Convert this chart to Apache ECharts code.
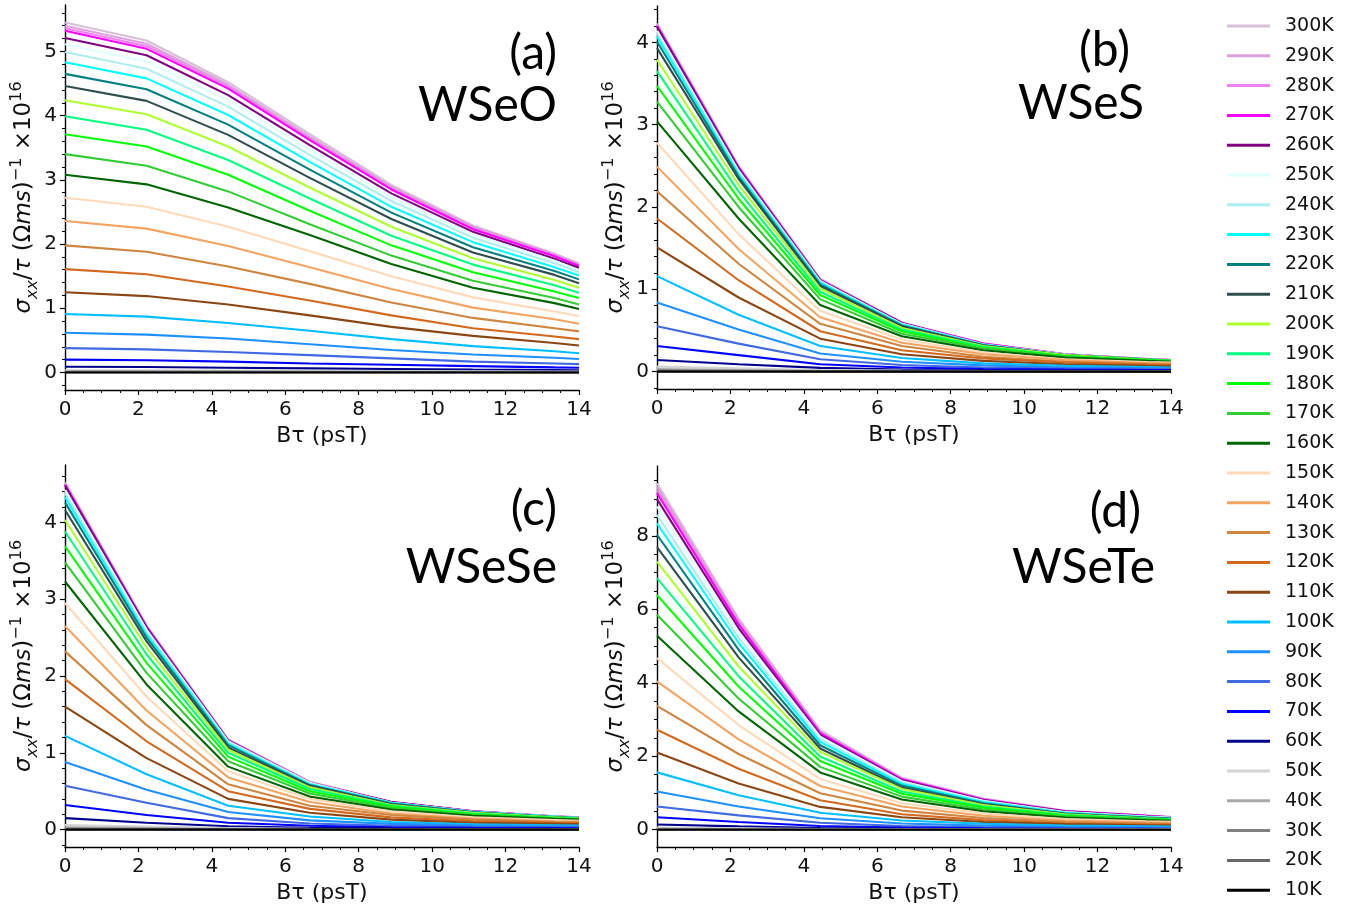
<!DOCTYPE html>
<html><head><meta charset="utf-8">
<script src="https://cdn.jsdelivr.net/npm/echarts@6/dist/echarts.min.js"></script>
<style>html,body{margin:0;padding:0;background:#fff}#c{width:1349px;height:911px}</style>
</head><body><div id="c"></div>
<script>
// ---------- data ----------
const xValues = [0, 2.222, 4.444, 6.667, 8.889, 11.111, 13.333, 14];
const temperatures = ['300K','290K','280K','270K','260K','250K','240K','230K','220K','210K','200K','190K','180K','170K','160K','150K','140K','130K','120K','110K','100K','90K','80K','70K','60K','50K','40K','30K','20K','10K'];
const lineColors = ['#D8BFD8','#DDA0DD','#EE82EE','#FF00FF','#800080','#E0FFFF','#AFEEEE','#00FFFF','#008080','#2F4F4F','#ADFF2F','#00FF7F','#00FF00','#32CD32','#006400','#FFDAB9','#F4A460','#CD853F','#D2691E','#8B4513','#00BFFF','#1E90FF','#4169E1','#0000FF','#00008B','#D3D3D3','#A9A9A9','#808080','#696969','#000000'];
const panelNames = ['(a)', '(b)', '(c)', '(d)'];
const materials = ['WSeO', 'WSeS', 'WSeSe', 'WSeTe'];
const xTicks = [0, 2, 4, 6, 8, 10, 12, 14];
const yTicksA = [0, 1, 2, 3, 4, 5];
const yTicksB = [0, 1, 2, 3, 4];
const yTicksC = [0, 1, 2, 3, 4];
const yTicksD = [0, 2, 4, 6, 8];

const wseo = [
[5.45,5.17,4.52,3.71,2.92,2.29,1.85,1.70],
[5.40,5.12,4.48,3.67,2.89,2.27,1.84,1.68],
[5.36,5.08,4.45,3.64,2.87,2.25,1.82,1.67],
[5.32,5.04,4.42,3.62,2.85,2.23,1.81,1.66],
[5.21,4.94,4.32,3.54,2.79,2.19,1.77,1.63],
[5.11,4.84,4.24,3.47,2.73,2.15,1.74,1.59],
[4.99,4.73,4.14,3.39,2.67,2.10,1.70,1.56],
[4.83,4.58,4.01,3.28,2.58,2.03,1.64,1.51],
[4.65,4.41,3.86,3.16,2.49,1.95,1.58,1.45],
[4.46,4.23,3.70,3.03,2.39,1.87,1.52,1.39],
[4.24,4.02,3.52,2.88,2.27,1.78,1.44,1.32],
[3.99,3.78,3.31,2.71,2.13,1.68,1.36,1.24],
[3.71,3.52,3.08,2.52,1.98,1.56,1.26,1.16],
[3.40,3.22,2.82,2.31,1.82,1.43,1.16,1.06],
[3.08,2.93,2.57,2.14,1.69,1.32,1.08,0.99],
[2.72,2.58,2.27,1.89,1.50,1.17,0.95,0.88],
[2.36,2.24,1.97,1.64,1.30,1.01,0.83,0.76],
[1.98,1.88,1.65,1.38,1.09,0.85,0.69,0.64],
[1.61,1.53,1.34,1.12,0.89,0.69,0.56,0.52],
[1.25,1.19,1.06,0.89,0.71,0.57,0.46,0.42],
[0.91,0.87,0.77,0.65,0.52,0.41,0.33,0.30],
[0.62,0.59,0.53,0.44,0.35,0.28,0.23,0.21],
[0.38,0.36,0.32,0.27,0.22,0.17,0.14,0.13],
[0.20,0.19,0.17,0.14,0.12,0.10,0.08,0.075],
[0.09,0.085,0.075,0.065,0.055,0.045,0.04,0.035],
[0.035,0.034,0.03,0.026,0.022,0.018,0.015,0.014],
[0.02,0.019,0.017,0.015,0.012,0.01,0.008,0.007],
[0.01,0.01,0.009,0.008,0.006,0.005,0.004,0.004],
[0.005,0.005,0.004,0.004,0.003,0.003,0.002,0.002],
[0,0,0,0,0,0,0,0]
];
const wses = [
[4.23,2.50,1.13,0.60,0.34,0.21,0.155,0.14],
[4.22,2.49,1.12,0.59,0.34,0.21,0.155,0.14],
[4.21,2.48,1.12,0.59,0.34,0.21,0.15,0.14],
[4.20,2.48,1.11,0.59,0.34,0.21,0.15,0.14],
[4.19,2.47,1.11,0.59,0.33,0.21,0.15,0.14],
[4.14,2.44,1.10,0.58,0.33,0.21,0.15,0.14],
[4.11,2.42,1.09,0.58,0.33,0.20,0.15,0.135],
[4.07,2.40,1.08,0.57,0.33,0.20,0.15,0.135],
[4.01,2.37,1.06,0.56,0.32,0.20,0.15,0.13],
[3.93,2.34,1.04,0.55,0.32,0.20,0.145,0.13],
[3.79,2.27,1.01,0.53,0.31,0.20,0.145,0.13],
[3.65,2.19,0.97,0.51,0.30,0.19,0.14,0.13],
[3.47,2.10,0.93,0.49,0.29,0.19,0.14,0.13],
[3.28,2.00,0.88,0.46,0.28,0.18,0.135,0.125],
[3.04,1.86,0.81,0.43,0.26,0.17,0.13,0.12],
[2.78,1.67,0.74,0.39,0.23,0.15,0.115,0.11],
[2.49,1.49,0.66,0.35,0.21,0.14,0.105,0.10],
[2.19,1.31,0.58,0.31,0.18,0.12,0.095,0.09],
[1.86,1.11,0.49,0.26,0.16,0.11,0.085,0.08],
[1.51,0.90,0.40,0.21,0.13,0.09,0.07,0.065],
[1.16,0.69,0.31,0.165,0.10,0.07,0.055,0.05],
[0.84,0.51,0.22,0.12,0.075,0.05,0.042,0.04],
[0.55,0.34,0.15,0.08,0.05,0.036,0.03,0.028],
[0.31,0.20,0.09,0.05,0.032,0.024,0.02,0.018],
[0.14,0.09,0.045,0.025,0.016,0.012,0.01,0.009],
[0.06,0.04,0.02,0.012,0.008,0.006,0.005,0.004],
[0.03,0.02,0.01,0.006,0.004,0.003,0.002,0.002],
[0.015,0.01,0.005,0.003,0.002,0.0015,0.001,0.001],
[0.006,0.004,0.002,0.001,0.001,0.001,0,0],
[0,0,0,0,0,0,0,0]
];
const wsese = [
[4.52,2.66,1.17,0.62,0.36,0.24,0.175,0.16],
[4.51,2.65,1.17,0.62,0.36,0.24,0.175,0.16],
[4.50,2.64,1.17,0.62,0.36,0.24,0.175,0.16],
[4.49,2.64,1.16,0.61,0.36,0.24,0.17,0.155],
[4.48,2.63,1.16,0.61,0.36,0.24,0.17,0.155],
[4.42,2.60,1.15,0.61,0.35,0.235,0.17,0.155],
[4.38,2.57,1.14,0.60,0.35,0.23,0.17,0.15],
[4.33,2.54,1.12,0.59,0.35,0.23,0.17,0.15],
[4.26,2.50,1.10,0.58,0.34,0.23,0.165,0.15],
[4.16,2.45,1.07,0.57,0.33,0.22,0.16,0.145],
[4.03,2.37,1.04,0.55,0.32,0.22,0.16,0.145],
[3.88,2.28,1.00,0.53,0.31,0.21,0.155,0.14],
[3.69,2.17,0.95,0.50,0.30,0.20,0.15,0.14],
[3.48,2.04,0.89,0.47,0.28,0.19,0.145,0.135],
[3.23,1.89,0.82,0.43,0.26,0.18,0.14,0.13],
[2.95,1.73,0.76,0.40,0.24,0.16,0.125,0.115],
[2.65,1.55,0.68,0.36,0.21,0.145,0.11,0.105],
[2.32,1.36,0.59,0.31,0.19,0.13,0.10,0.095],
[1.96,1.15,0.50,0.27,0.16,0.11,0.09,0.085],
[1.60,0.93,0.40,0.22,0.13,0.09,0.075,0.07],
[1.22,0.72,0.31,0.17,0.10,0.07,0.058,0.053],
[0.88,0.52,0.23,0.12,0.075,0.053,0.044,0.04],
[0.57,0.35,0.15,0.08,0.05,0.037,0.03,0.028],
[0.32,0.19,0.09,0.05,0.032,0.024,0.02,0.018],
[0.15,0.09,0.045,0.025,0.016,0.012,0.01,0.009],
[0.06,0.04,0.02,0.012,0.008,0.006,0.005,0.004],
[0.03,0.02,0.01,0.006,0.004,0.003,0.002,0.002],
[0.015,0.01,0.005,0.003,0.002,0.0015,0.001,0.001],
[0.006,0.004,0.002,0.001,0.001,0.001,0,0],
[0,0,0,0,0,0,0,0]
];
const wsete = [
[9.43,5.75,2.71,1.41,0.85,0.52,0.39,0.35],
[9.34,5.70,2.68,1.40,0.84,0.51,0.38,0.345],
[9.25,5.64,2.65,1.39,0.83,0.51,0.38,0.34],
[9.16,5.59,2.63,1.37,0.82,0.50,0.375,0.34],
[9.00,5.49,2.58,1.35,0.81,0.50,0.37,0.33],
[8.80,5.37,2.53,1.32,0.79,0.48,0.36,0.33],
[8.57,5.23,2.46,1.29,0.77,0.47,0.35,0.32],
[8.34,5.09,2.39,1.25,0.75,0.46,0.34,0.31],
[8.03,4.90,2.30,1.20,0.72,0.44,0.33,0.30],
[7.69,4.69,2.21,1.15,0.69,0.43,0.32,0.29],
[7.30,4.45,2.12,1.11,0.67,0.42,0.31,0.285],
[6.85,4.18,1.99,1.04,0.63,0.40,0.30,0.28],
[6.39,3.90,1.87,0.98,0.60,0.38,0.29,0.27],
[5.85,3.57,1.71,0.90,0.55,0.36,0.28,0.26],
[5.28,3.22,1.56,0.82,0.50,0.33,0.26,0.245],
[4.67,2.85,1.38,0.72,0.44,0.29,0.23,0.215],
[4.04,2.46,1.19,0.63,0.38,0.25,0.20,0.19],
[3.37,2.06,0.99,0.52,0.32,0.21,0.17,0.16],
[2.72,1.66,0.80,0.42,0.26,0.17,0.14,0.13],
[2.10,1.26,0.62,0.34,0.21,0.15,0.12,0.11],
[1.56,0.94,0.46,0.25,0.16,0.11,0.09,0.083],
[1.04,0.63,0.31,0.17,0.11,0.075,0.06,0.055],
[0.63,0.39,0.19,0.10,0.065,0.045,0.037,0.034],
[0.34,0.21,0.10,0.056,0.036,0.026,0.021,0.019],
[0.14,0.09,0.045,0.025,0.016,0.012,0.01,0.009],
[0.06,0.04,0.02,0.012,0.008,0.006,0.005,0.004],
[0.03,0.02,0.01,0.006,0.004,0.003,0.002,0.002],
[0.015,0.01,0.005,0.003,0.002,0.0015,0.001,0.001],
[0.006,0.004,0.002,0.001,0.001,0.001,0,0],
[0,0,0,0,0,0,0,0]
];

// ---------- layout ----------
const panelData = [wseo, wses, wsese, wsete];
const yTickSets = [yTicksA, yTicksB, yTicksC, yTicksD];
const yRanges = [[-0.2725, 5.7225], [-0.2115, 4.4415], [-0.226, 4.746], [-0.4715, 9.9015]];
const yMinorStep = [0.2, 0.2, 0.2, 0.5];
const grids = [
  {left: 65, top: 5, width: 514, height: 385},
  {left: 657, top: 6, width: 514, height: 383},
  {left: 65, top: 465, width: 514, height: 382},
  {left: 657, top: 466, width: 514, height: 381}
];
const labelPos = [
  {x: 557, y1: 54, y2: 106},
  {x1: 1130, x: 1144, y1: 51, y2: 104},
  {x: 557, y1: 510, y2: 568},
  {x1: 1141, x: 1155, y1: 512, y2: 568}
];
const FONT = '"DejaVu Sans", sans-serif';
const axisColor = '#000';

function minorTicks(range, step, majors) {
  const out = [];
  const k0 = Math.ceil(range[0] / step - 1e-9), k1 = Math.floor(range[1] / step + 1e-9);
  for (let k = k0; k <= k1; k++) {
    const v = +(k * step).toFixed(4);
    if (!majors.some(m => Math.abs(m - v) < 1e-6)) out.push(v);
  }
  return out;
}

const xAxes = [], yAxes = [], series = [], graphics = [];
const yName = '{i|σ}{s|xx}{n|/}{i|τ}{n| (Ω}{i|ms}{n|)}{p|−1}{n| ×10}{p|16}';
const yRich = {
  n: {fontSize: 23, fontFamily: FONT, color: '#111', lineHeight: 32},
  i: {fontSize: 23, fontFamily: FONT, fontStyle: 'italic', color: '#111', lineHeight: 32},
  s: {fontSize: 16, fontFamily: FONT, fontStyle: 'italic', color: '#111', verticalAlign: 'bottom'},
  p: {fontSize: 16, fontFamily: FONT, color: '#111', verticalAlign: 'top'}
};

for (let p = 0; p < 4; p++) {
  xAxes.push({
    type: 'value', gridIndex: p, min: 0, max: 14, interval: 2,
    axisLine: {show: true, onZero: false, lineStyle: {color: axisColor, width: 1.4}},
    axisTick: {show: true, length: 5, lineStyle: {color: axisColor, width: 1.2}},
    minorTick: {show: true, splitNumber: 4, length: 3, lineStyle: {color: axisColor, width: 1}},
    axisLabel: {fontSize: 20, fontFamily: FONT, color: '#111', margin: 10},
    splitLine: {show: false},
    name: 'Bτ (psT)', nameLocation: 'middle', nameGap: 35,
    nameTextStyle: {fontSize: 22, fontFamily: FONT, color: '#111'}
  });
  yAxes.push({
    type: 'value', gridIndex: p, position: 'left', min: yRanges[p][0], max: yRanges[p][1],
    axisLine: {show: true, lineStyle: {color: axisColor, width: 1.4}},
    axisTick: {show: true, length: 5, customValues: yTickSets[p], lineStyle: {color: axisColor, width: 1.2}},
    axisLabel: {customValues: yTickSets[p], fontSize: 20, fontFamily: FONT, color: '#111', margin: 8},
    splitLine: {show: false},
    name: yName, nameLocation: 'middle', nameRotate: 90, nameGap: 22,
    nameTextStyle: {rich: yRich}
  });
  yAxes.push({
    type: 'value', gridIndex: p, position: 'left', min: yRanges[p][0], max: yRanges[p][1],
    axisLine: {show: false},
    axisTick: {show: true, length: 3, customValues: minorTicks(yRanges[p], yMinorStep[p], yTickSets[p]), lineStyle: {color: axisColor, width: 1}},
    axisLabel: {show: false},
    splitLine: {show: false}
  });
  const data = panelData[p];
  for (let i = 0; i < temperatures.length; i++) {
    series.push({
      type: 'line', name: temperatures[i], xAxisIndex: p, yAxisIndex: 2 * p,
      data: xValues.map((x, j) => [x, data[i][j]]),
      showSymbol: false, symbol: 'none', clip: true,
      lineStyle: {color: lineColors[i], width: 2.1},
      itemStyle: {color: lineColors[i]},
      emphasis: {disabled: true}
    });
  }
  const lp = labelPos[p];
  graphics.push({
    type: 'text', x: lp.x1 || lp.x, y: lp.y1,
    style: {text: panelNames[p], font: '48px Lato, "Open Sans", sans-serif', fill: '#000', align: 'right', verticalAlign: 'middle'}
  });
  graphics.push({
    type: 'text', x: lp.x, y: lp.y2,
    style: {text: materials[p], font: '48px Lato, "Open Sans", sans-serif', fill: '#000', align: 'right', verticalAlign: 'middle'}
  });
}

const chart = echarts.init(document.getElementById('c'), null, {renderer: 'canvas'});
chart.setOption({
  animation: false,
  backgroundColor: '#fff',
  textStyle: {fontFamily: FONT},
  grid: grids,
  xAxis: xAxes,
  yAxis: yAxes,
  series: series,
  graphic: graphics,
  legend: {
    data: temperatures, orient: 'vertical', left: 1222, top: 11,
    icon: 'rect', itemWidth: 43, itemHeight: 3, itemGap: 9.8,
    selectedMode: false,
    textStyle: {fontSize: 19, fontFamily: FONT, color: '#111', lineHeight: 20, padding: [0, 0, 0, 10]}
  }
});
</script>
</body></html>
